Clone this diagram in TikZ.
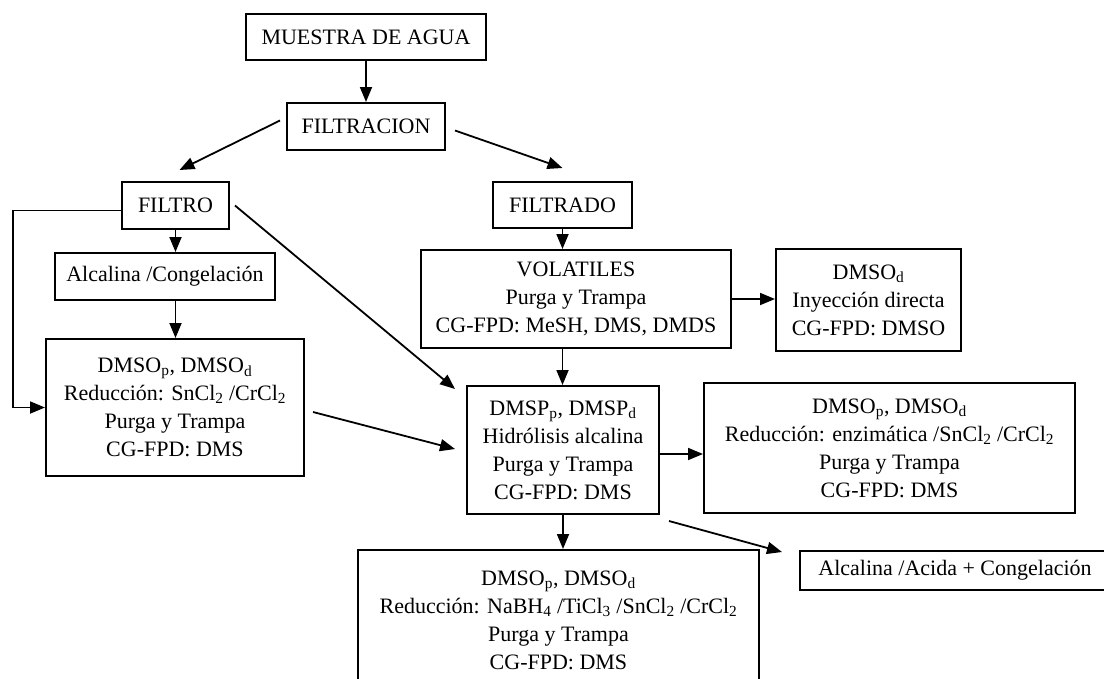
\documentclass[tikz,border=0pt]{standalone}
\usepackage{fontspec}
\setmainfont{Liberation Serif}
\usetikzlibrary{arrows.meta,calc}
\newcommand{\sbs}[1]{\textsubscript{#1}}
\begin{document}
\begin{tikzpicture}[x=1pt,y=-1pt,
  box/.style={draw, line width=2pt, inner sep=0pt, align=center,
    font=\fontsize{22}{28}\selectfont},
  flow/.style={line width=1.8pt, -{Triangle[length=15pt,width=12pt]}}]
\useasboundingbox (0,0) rectangle (1104,678);
\fill[white] (0,0) rectangle (1104,678);
\clip (0,0) rectangle (1104,678);

% boxes
\node[box, minimum width=240pt, minimum height=46pt] (muestra) at (366,37) {MUESTRA DE AGUA};
\node[box, minimum width=158pt, minimum height=47pt] (filtracion) at (366,126.5) {FILTRACION};
\node[box, minimum width=107pt, minimum height=47pt] (filtro) at (175.5,205.5) {FILTRO};
\node[box, minimum width=139pt, minimum height=46pt] (filtrado) at (562.5,205) {FILTRADO};
\node[box, minimum width=220pt, minimum height=47pt] (alc) at (165,276.5) {Alcalina /Congelación};
\node[box, minimum width=310pt, minimum height=98pt] (vol) at (576,299)
  {VOLATILES\\Purga y Trampa\\CG-FPD: MeSH, DMS, DMDS};
\node[box, minimum width=185pt, minimum height=102pt] (dmsod) at (868.5,300)
  {DMSO\sbs{d}\\Inyección directa\\CG-FPD: DMSO};
\node[box, minimum width=258pt, minimum height=137pt] (dmsoL) at (175,407.5)
  {DMSO\sbs{p}, DMSO\sbs{d}\\Reducción: SnCl\sbs{2} /CrCl\sbs{2}\\Purga y Trampa\\CG-FPD: DMS};
\node[box, minimum width=192pt, minimum height=128pt] (dmsp) at (563,450)
  {DMSP\sbs{p}, DMSP\sbs{d}\\Hidrólisis alcalina\\Purga y Trampa\\CG-FPD: DMS};
\node[box, minimum width=371pt, minimum height=130pt] (right) at (889.5,448)
  {DMSO\sbs{p}, DMSO\sbs{d}\\Reducción: enzimática /SnCl\sbs{2} /CrCl\sbs{2}\\Purga y Trampa\\CG-FPD: DMS};
\node[box, minimum width=401pt, minimum height=140pt] (bottom) at (558.5,620)
  {DMSO\sbs{p}, DMSO\sbs{d}\\Reducción: NaBH\sbs{4} /TiCl\sbs{3} /SnCl\sbs{2} /CrCl\sbs{2}\\Purga y Trampa\\CG-FPD: DMS};
\node[box, minimum width=310pt, minimum height=39pt] (acida) at (955,570.5)
  {Alcalina /Acida + Congelación};

% connectors
\coordinate (loopx) at (13,0);
\coordinate (dspout) at ($(dmsp.east)+(0,4)$);
\draw[flow] (muestra.south) -- (filtracion.north);
\draw[flow] ($(filtracion.west)+(-6,-6)$) -- ($(filtro.north)+(4,-11)$);
\draw[flow] ($(filtracion.east)+(9,4)$) -- ($(filtrado.north)+(0,-13)$);
\draw[flow] (filtro.south) -- (filtro.south |- alc.north);
\draw[flow] (filtro.south |- alc.south) -- (filtro.south |- dmsoL.north);
\draw[flow] ($(filtro.west)+(0,5)$) -| (loopx |- dmsoL.west) -- (dmsoL.west);
\draw[flow] ($(filtro.east)+(5,0)$) -- ($(dmsp.north west)+(-11,4)$);
\draw[flow] ($(dmsoL.east)+(8,4.5)$) -- ($(dmsp.west)+(-11,-1)$);
\draw[flow] (filtrado.south) -- (filtrado.south |- vol.north);
\draw[flow] (filtrado.south |- vol.south) -- (filtrado.south |- dmsp.north);
\draw[flow] (vol.east) -- (vol.east -| dmsod.west);
\draw[flow] (dspout) -- (dspout -| right.west);
\draw[flow] (dmsp.south) -- (dmsp.south |- bottom.north);
\draw[flow] ($(dmsp.south east)+(9,6)$) -- ($(acida.north west)+(-17,2)$);
\end{tikzpicture}
\end{document}
